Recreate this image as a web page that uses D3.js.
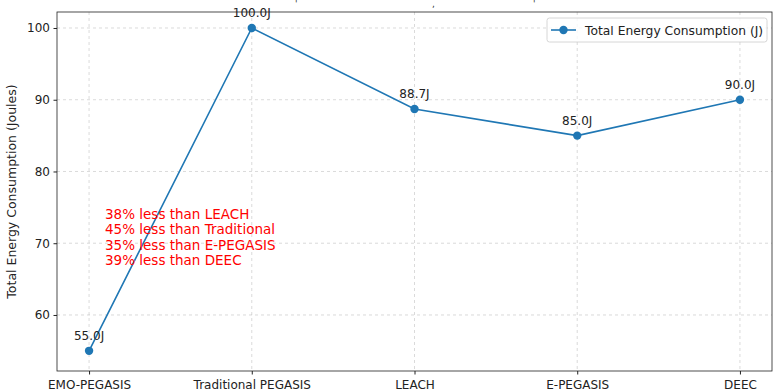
<!DOCTYPE html>
<html><head><meta charset="utf-8">
<script src="https://cdn.jsdelivr.net/npm/d3@7"></script>
<style>body{margin:0;background:#fff}svg{font-family:"DejaVu Sans",sans-serif}</style>
</head><body><svg id="c" width="779" height="392"></svg>
<script>
const categories = ["EMO-PEGASIS","Traditional PEGASIS","LEACH","E-PEGASIS","DEEC"];
const energy = [55.0, 100.0, 88.7, 85.0, 90.0];
const yTicks = [60, 70, 80, 90, 100];
const notes = ["38% less than LEACH","45% less than Traditional","35% less than E-PEGASIS","39% less than DEEC"];
const seriesName = "Total Energy Consumption (J)";
const color = "#1f77b4";

const svg = d3.select("#c");
const L=57,R=772,T=12,B=371;
const x = d3.scaleLinear().domain([-0.197,4.197]).range([L,R]);
const y = d3.scaleLinear().domain([52.19,102.23]).range([B,T]);

// grid
const g = svg.append("g");
categories.forEach((c,i)=>g.append("line").attr("x1",x(i)).attr("x2",x(i)).attr("y1",T).attr("y2",B)
  .attr("stroke","#b0b0b0").attr("stroke-opacity",0.6).attr("stroke-dasharray","3,3").attr("stroke-width",0.8));
yTicks.forEach(v=>g.append("line").attr("x1",L).attr("x2",R).attr("y1",y(v)).attr("y2",y(v))
  .attr("stroke","#b0b0b0").attr("stroke-opacity",0.6).attr("stroke-dasharray","3,3").attr("stroke-width",0.8));

// axes
const xa = svg.append("g").attr("transform",`translate(0,${B})`)
  .call(d3.axisBottom(x).tickValues(d3.range(categories.length)).tickFormat(i=>categories[i]).tickSize(3.5).tickPadding(3.5));
const ya = svg.append("g").attr("transform",`translate(${L},0)`)
  .call(d3.axisLeft(y).tickValues(yTicks).tickSize(3.5).tickPadding(3.5));
[xa,ya].forEach(a=>{a.select(".domain").remove();a.selectAll("text").attr("font-size",12).attr("fill","#222").attr("font-family","DejaVu Sans");a.selectAll("line").attr("stroke","#222");});
xa.selectAll("text").attr("dy","0.9em");
svg.append("rect").attr("x",L).attr("y",T).attr("width",R-L).attr("height",B-T).attr("fill","none").attr("stroke","#222").attr("stroke-width",0.8);

svg.append("text").attr("transform",`translate(16,${(T+B)/2}) rotate(-90)`).attr("text-anchor","middle")
  .attr("font-size",12.5).attr("fill","#222").text("Total Energy Consumption (Joules)");

// line
const line = d3.line().x((d,i)=>x(i)).y(d=>y(d));
svg.append("path").datum(energy).attr("d",line).attr("fill","none").attr("stroke",color).attr("stroke-width",1.6);
svg.selectAll("circle.pt").data(energy).enter().append("circle").attr("class","pt")
  .attr("cx",(d,i)=>x(i)).attr("cy",d=>y(d)).attr("r",4.2).attr("fill",color);
svg.selectAll("text.val").data(energy).enter().append("text").attr("class","val")
  .attr("x",(d,i)=>x(i)).attr("y",d=>y(d)-11).attr("text-anchor","middle").attr("font-size",12).attr("fill","#222")
  .text(d=>d.toFixed(1)+"J");

// notes
notes.forEach((t,i)=>svg.append("text").attr("x",105).attr("y",219+i*15.3).attr("font-size",13.5).attr("fill","red").text(t));

// legend
const lg = svg.append("g");
lg.append("rect").attr("x",547).attr("y",18).attr("width",220).attr("height",24).attr("rx",2.5)
  .attr("fill","#fff").attr("fill-opacity",0.8).attr("stroke","#ccc").attr("stroke-width",0.8);
lg.append("line").attr("x1",551).attr("x2",576).attr("y1",30).attr("y2",30).attr("stroke",color).attr("stroke-width",1.6);
lg.append("circle").attr("cx",563.5).attr("cy",30).attr("r",4.2).attr("fill",color);
lg.append("text").attr("x",585).attr("y",34.5).attr("font-size",12.3).attr("fill","#222").text(seriesName);

// clipped title fragments at top
[[295,"'"],[432,","],[533,"'"]].forEach(([px,ch])=>svg.append("text").attr("x",px).attr("y",7).attr("font-size",9).attr("fill","#333").text(ch));
</script></body></html>
